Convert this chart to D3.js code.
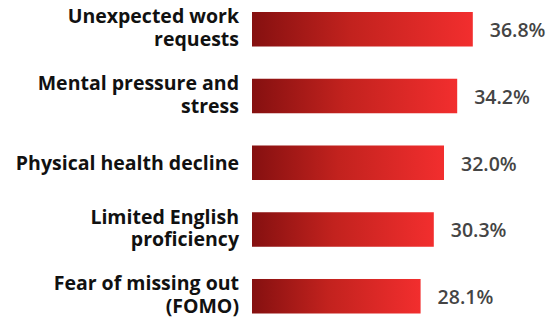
<!DOCTYPE html>
<html>
<head>
<meta charset="utf-8">
<script src="https://cdn.jsdelivr.net/npm/d3@7"></script>
<style>
  body { margin: 0; background: #fff; }
  text { font-family: "Open Sans", sans-serif; }
</style>
</head>
<body>
<svg id="chart" width="559" height="322"></svg>
<script>
// data
const categories = [
    ["Unexpected work", "requests"],
    ["Mental pressure and", "stress"],
    ["Physical health decline"],
    ["Limited English", "proficiency"],
    ["Fear of missing out", "(FOMO)"]
];
const values = [36.8, 34.2, 32.0, 30.3, 28.1];

const svg = d3.select("#chart");
const left = 252;

const y = d3.scaleBand()
    .domain(d3.range(categories.length))
    .range([12, 313.5])
    .paddingInner(0.483)
    .paddingOuter(0);

const x = d3.scaleLinear().domain([0, 40]).range([0, 240]);

// gradient for bars
const grad = svg.append("defs").append("linearGradient")
    .attr("id", "barGrad")
    .attr("x1", "0%").attr("x2", "100%");
grad.append("stop").attr("offset", "0%").attr("stop-color", "#851010");
grad.append("stop").attr("offset", "45%").attr("stop-color", "#c2221e");
grad.append("stop").attr("offset", "100%").attr("stop-color", "#f22e2e");

const rows = svg.append("g")
    .selectAll("g")
    .data(values)
    .join("g")
    .attr("transform", (d, i) => `translate(0,${y(i)})`);

rows.append("rect")
    .attr("x", left)
    .attr("y", 0)
    .attr("width", d => x(d))
    .attr("height", y.bandwidth())
    .attr("fill", "url(#barGrad)");

rows.append("text")
    .attr("x", d => left + x(d) + 17)
    .attr("y", y.bandwidth() / 2 + 8)
    .attr("fill", "#444")
    .attr("font-size", 19.5)
    .attr("font-weight", 600)
    .text(d => d.toFixed(1) + "%");

// category labels, one or two lines, right aligned
rows.each(function (d, i) {
    const lines = categories[i];
    const cy = y.bandwidth() / 2;
    const t = d3.select(this).append("text")
        .attr("text-anchor", "end")
        .attr("fill", "#111")
        .attr("font-size", 19.5)
        .attr("font-weight", 700);
    lines.forEach((ln, j) => {
        const base = lines.length === 1 ? cy + 7.5 : cy - 6 + j * 23;
        t.append("tspan").attr("x", 239).attr("y", base).text(ln);
    });
});
</script>
</body>
</html>
